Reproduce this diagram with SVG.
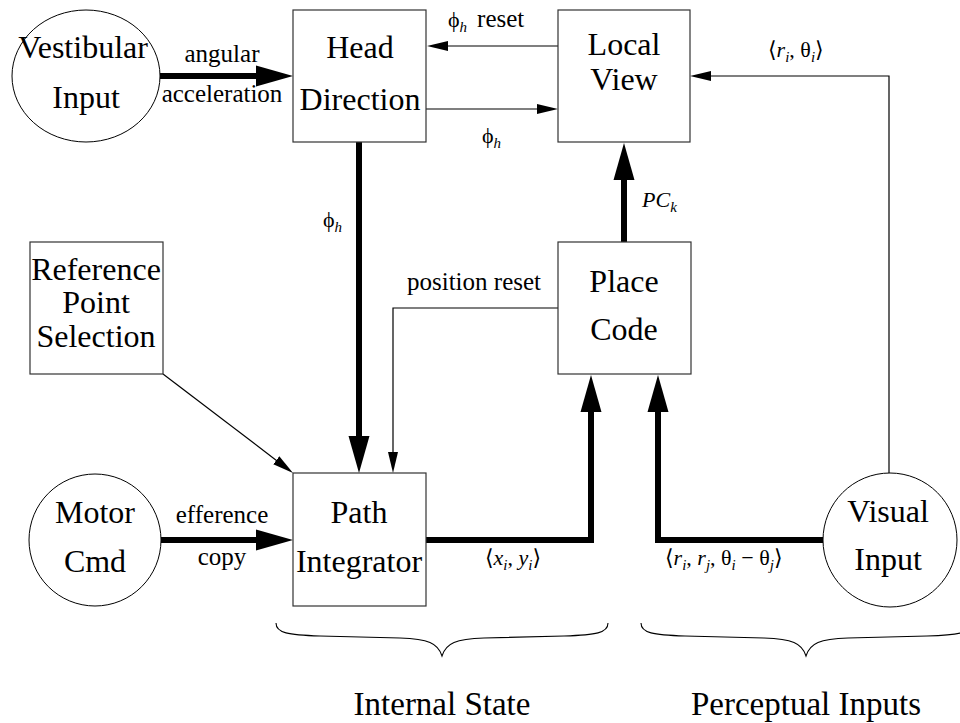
<svg xmlns="http://www.w3.org/2000/svg" width="960" height="723" viewBox="0 0 960 723" font-family="'Liberation Serif', 'DejaVu Serif', 'Times New Roman', serif">
<style>
text{font-family:'Liberation Serif','DejaVu Serif','Times New Roman',serif}
.box{fill:#fff;stroke:#333;stroke-width:1.2}
.circ{fill:#fff;stroke:#000;stroke-width:1}
.node{font-size:32px;fill:#000;text-anchor:middle}
.lbl{font-size:25px;fill:#000}
.math{font-size:22px;fill:#000}
.it{font-style:italic}
.sub{font-size:15px;font-style:italic}
.thin{fill:none;stroke:#000;stroke-width:1.2}
.thick{fill:none;stroke:#000;stroke-width:6;stroke-linejoin:miter}
.brace{fill:none;stroke:#000;stroke-width:1.1}
.cap{font-size:33px;fill:#000;text-anchor:middle}
</style>
<defs>
<marker id="ahk" markerUnits="userSpaceOnUse" viewBox="-1 -11 38 22" refX="0" refY="0" markerWidth="38" markerHeight="22" orient="auto">
<path d="M-1,-10.5 L36,0 L-1,10.5 z" fill="#000"/>
</marker>
<marker id="aht" markerUnits="userSpaceOnUse" viewBox="-1 -6 22 12" refX="0" refY="0" markerWidth="22" markerHeight="12" orient="auto">
<path d="M-1,-5 L20,0 L-1,5 z" fill="#000"/>
</marker>
</defs>
<rect width="960" height="723" fill="#fff"/>

<g id="connectors">
<line class="thick" x1="160" y1="76" x2="257" y2="76" marker-end="url(#ahk)"/>
<line class="thin" x1="558" y1="46" x2="447" y2="46" marker-end="url(#aht)"/>
<line class="thin" x1="426" y1="109" x2="538" y2="109" marker-end="url(#aht)"/>
<polyline class="thin" points="889,473 889,76 710,76" marker-end="url(#aht)"/>
<line class="thick" x1="624" y1="242" x2="624" y2="179" marker-end="url(#ahk)"/>
<line class="thick" x1="359" y1="142" x2="359" y2="437" marker-end="url(#ahk)"/>
<polyline class="thin" points="558,308 393,308 393,453" marker-end="url(#aht)"/>
<line class="thin" x1="163" y1="374" x2="277.1" y2="460.9" marker-end="url(#aht)"/>
<line class="thick" x1="161" y1="540" x2="257" y2="540" marker-end="url(#ahk)"/>
<polyline class="thick" points="426,540 591,540 591,411" marker-end="url(#ahk)"/>
<polyline class="thick" points="823,540 658,540 658,411" marker-end="url(#ahk)"/>
</g>

<g id="edge-labels">
<text class="lbl" x="222" y="62" text-anchor="middle">angular</text>
<text class="lbl" x="222" y="102" text-anchor="middle">acceleration</text>
<text class="math" x="448" y="27">ϕ<tspan class="sub" dy="5">h</tspan><tspan dy="-5" class="lbl" dx="10">reset</tspan></text>
<text class="math" x="482" y="143">ϕ<tspan class="sub" dy="5">h</tspan></text>
<text class="math" x="323" y="227">ϕ<tspan class="sub" dy="5">h</tspan></text>
<text class="math" x="612" y="128">ϕ<tspan class="sub" dy="4">ki</tspan></text>
<text class="math it" x="642" y="207">PC<tspan class="sub" dy="5">k</tspan></text>
<text class="lbl" x="407" y="290">position reset</text>
<text class="math" x="768" y="57">⟨<tspan class="it">r</tspan><tspan class="sub" dy="5">i</tspan><tspan dy="-5">, θ</tspan><tspan class="sub" dy="5">i</tspan><tspan dy="-5">⟩</tspan></text>
<text class="lbl" x="222" y="523" text-anchor="middle">efference</text>
<text class="lbl" x="222" y="565" text-anchor="middle">copy</text>
<text class="math" x="485" y="565">⟨<tspan class="it">x</tspan><tspan class="sub" dy="5">i</tspan><tspan dy="-5">, </tspan><tspan class="it">y</tspan><tspan class="sub" dy="5">i</tspan><tspan dy="-5">⟩</tspan></text>
<text class="math" x="665" y="565">⟨<tspan class="it">r</tspan><tspan class="sub" dy="5">i</tspan><tspan dy="-5">, </tspan><tspan class="it">r</tspan><tspan class="sub" dy="5">j</tspan><tspan dy="-5">, θ</tspan><tspan class="sub" dy="5">i</tspan><tspan dy="-5"> − θ</tspan><tspan class="sub" dy="5">j</tspan><tspan dy="-5">⟩</tspan></text>
</g>

<g id="vestibular-input">
<ellipse class="circ" cx="86" cy="76" rx="74" ry="66"/>
<text class="node" x="83" y="58">Vestibular</text>
<text class="node" x="86" y="108">Input</text>
</g>
<g id="head-direction">
<rect class="box" x="293" y="10" width="133" height="132"/>
<text class="node" x="360" y="58">Head</text>
<text class="node" x="360" y="110">Direction</text>
</g>
<g id="local-view">
<rect class="box" x="558" y="10" width="132" height="132"/>
<text class="node" x="624" y="55">Local</text>
<text class="node" x="624" y="90">View</text>
</g>
<g id="reference-point-selection">
<rect class="box" x="30" y="242" width="133" height="132"/>
<text class="node" x="96" y="280">Reference</text>
<text class="node" x="96" y="313">Point</text>
<text class="node" x="96" y="347">Selection</text>
</g>
<g id="place-code">
<rect class="box" x="558" y="242" width="133" height="132"/>
<text class="node" x="624" y="292">Place</text>
<text class="node" x="624" y="340">Code</text>
</g>
<g id="motor-cmd">
<ellipse class="circ" cx="95" cy="540" rx="66" ry="66"/>
<text class="node" x="95" y="523">Motor</text>
<text class="node" x="95" y="572">Cmd</text>
</g>
<g id="path-integrator">
<rect class="box" x="293" y="473" width="133" height="133"/>
<text class="node" x="359" y="523">Path</text>
<text class="node" x="359" y="572">Integrator</text>
</g>
<g id="visual-input">
<ellipse class="circ" cx="890" cy="540" rx="67" ry="67"/>
<text class="node" x="888" y="522">Visual</text>
<text class="node" x="888" y="570">Input</text>
</g>

<g id="internal-state">
<path class="brace" d="M276,623 C276,633 288,635 320,636 L400,638 C428,639 438,643 442,656 C446,643 456,639 484,638 L564,636 C596,635 608,633 608,623"/>
<text class="cap" x="442" y="715">Internal State</text>
</g>
<g id="perceptual-inputs">
<path class="brace" d="M641,623 C641,633 653,635 685,636 L764,638 C792,639 802,643 806,656 C810,643 820,639 848,638 L927,636 C959,635 971,633 971,623"/>
<text class="cap" x="806" y="715">Perceptual Inputs</text>
</g>
</svg>
